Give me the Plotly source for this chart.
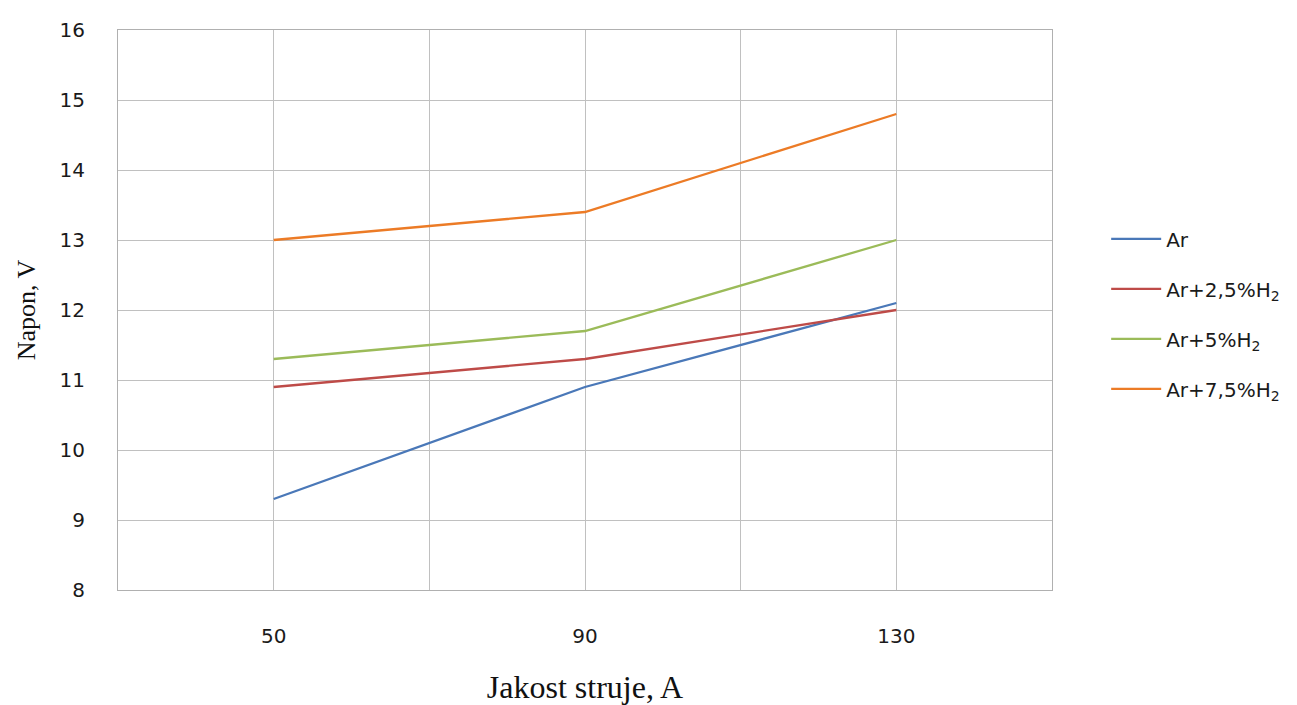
import plotly.graph_objects as go

currents = [50, 90, 130]
series_names = ["Ar", "Ar+2,5%H<sub>2</sub>", "Ar+5%H<sub>2</sub>", "Ar+7,5%H<sub>2</sub>"]
ar = [9.3, 10.9, 12.1]
ar_25h2 = [10.9, 11.3, 12.0]
ar_5h2 = [11.3, 11.7, 13.0]
ar_75h2 = [13.0, 13.4, 14.8]
colors = ["#4A78B8", "#BE4B48", "#9BBB59", "#EC7B26"]

x_ticks = [50, 90, 130]
x_ticklabels = ["50", "90", "130"]
x_between = [30, 70, 110, 150]

sans = "DejaVu Sans, Open Sans, sans-serif"
serif = "Liberation Serif, Times New Roman, serif"

fig = go.Figure()
for i, (name, vals) in enumerate(zip(series_names, [ar, ar_25h2, ar_5h2, ar_75h2])):
    fig.add_trace(go.Scatter(x=currents, y=vals, mode="lines", name=name,
                             line=dict(color=colors[i], width=2.3),
                             legendgroup=f"g{i}"))

fig.update_layout(
    width=1289, height=697,
    margin=dict(l=110, r=243, t=22, b=115),
    paper_bgcolor="white", plot_bgcolor="white",
    showlegend=True,
    legend=dict(x=1.058, y=0.493, xanchor="left", yanchor="middle",
                font=dict(family=sans, size=20, color="#1a1a1a"),
                tracegroupgap=21, itemwidth=50, bgcolor="rgba(0,0,0,0)"),
    xaxis=dict(range=[30, 150], tickmode="array", tickvals=x_ticks, ticktext=x_ticklabels,
               showgrid=True, gridcolor="#C0C0C0", gridwidth=1, automargin=False,
               minor=dict(tickmode="array", tickvals=x_between, showgrid=True,
                          gridcolor="#C0C0C0", gridwidth=1, ticks=""),
               showline=True, linecolor="#B0B0B0", linewidth=1, mirror=True,
               ticks="", zeroline=False, ticklabelstandoff=28,
               tickfont=dict(family=sans, size=20, color="#1a1a1a"),
               title=dict(text="Jakost struje, A", standoff=32,
                          font=dict(family=serif, size=32, color="#111"))),
    yaxis=dict(range=[8, 16], dtick=1, showgrid=True, gridcolor="#C0C0C0", gridwidth=1,
               showline=True, linecolor="#B0B0B0", linewidth=1, mirror=True,
               ticks="", zeroline=False, ticklabelstandoff=28, automargin=False,
               tickfont=dict(family=sans, size=20, color="#1a1a1a"),
               title=dict(text="Napon, V", standoff=16,
                          font=dict(family=serif, size=26, color="#111"))),
)

fig.write_html("out.html")
